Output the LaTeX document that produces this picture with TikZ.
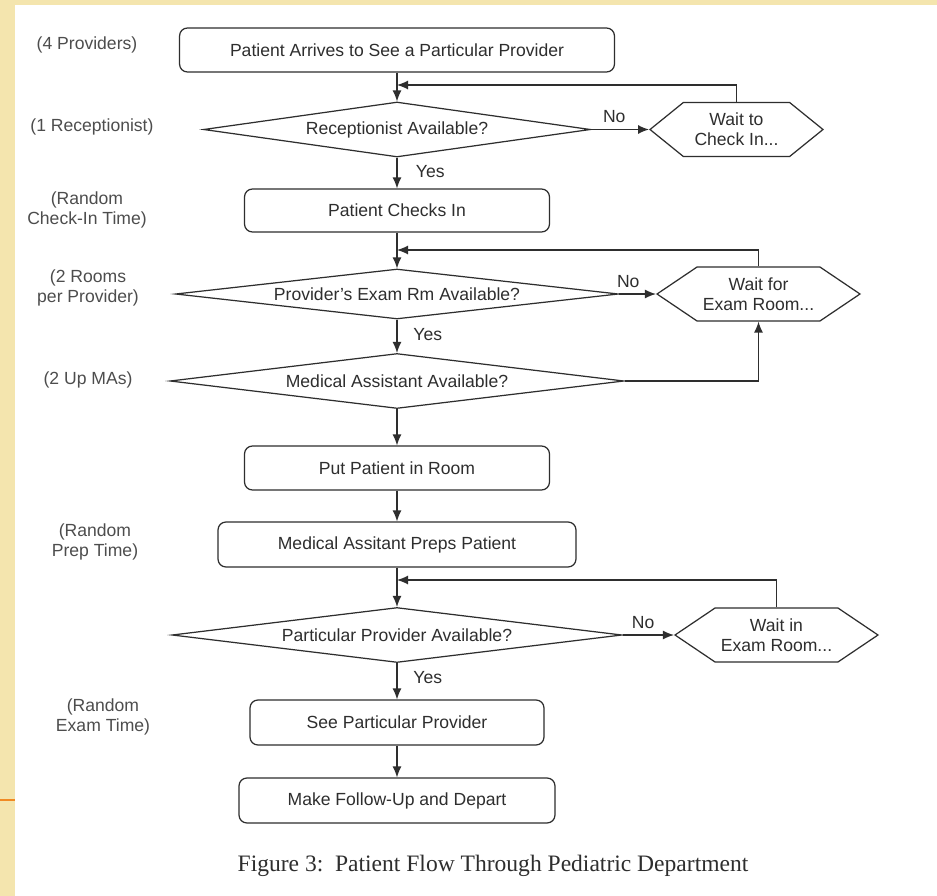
\documentclass[tikz,border=0pt]{standalone}
\usepackage{fontspec}
\setmainfont{Liberation Sans}
\newfontfamily\capfont{Liberation Serif}
\usetikzlibrary{arrows.meta,shapes.geometric,shapes.symbols}

\definecolor{slidebg}{HTML}{F4E5AE}
\definecolor{slideline}{HTML}{F08A24}
\definecolor{ink}{HTML}{2E2E2E}

\begin{document}
\begin{tikzpicture}[
  x=0.02cm, y=-0.02cm,
  font=\fontsize{10}{11.5}\selectfont,
  box/.style={draw=ink,rounded corners=4.5pt,align=center,text=ink,line width=0.7pt},
  dia/.style={draw=ink,diamond,aspect=8,inner sep=0pt,align=center,text=ink,line width=0.7pt},
  wait/.style={draw=ink,signal,signal to=east and west,inner sep=0pt,align=center,text=ink,line width=0.7pt},
  side/.style={align=center,text=ink!85},
  flow/.style={-{Latex[length=2.2mm,width=1.8mm]},draw=ink,line width=0.7pt},
  lbl/.style={text=ink}
]
\useasboundingbox (0,0) rectangle (937,896);
\fill[slidebg] (0,0) rectangle (937,896);
\fill[white] (15,5) rectangle (937,896);
\draw[slideline,line width=0.8pt] (0,800) -- (15,800);

% main column
\node[box,minimum width=8.70cm,minimum height=0.88cm] (arrive) at (397,50) {Patient Arrives to See a Particular Provider};
\node[dia,minimum width=7.74cm,minimum height=1.10cm] (recep) at (397,129.5) {Receptionist Available?};
\node[box,minimum width=6.10cm,minimum height=0.86cm] (checkin) at (397,210.5) {Patient Checks In};
\node[dia,minimum width=8.86cm,minimum height=1.00cm] (room) at (397,294) {Provider's Exam Rm Available?};
\node[dia,minimum width=9.08cm,minimum height=1.10cm] (ma) at (397,381) {Medical Assistant Available?};
\node[box,minimum width=6.10cm,minimum height=0.88cm] (putin) at (397,468) {Put Patient in Room};
\node[box,minimum width=7.16cm,minimum height=0.90cm] (prep) at (397,544.5) {Medical Assitant Preps Patient};
\node[dia,minimum width=9.00cm,minimum height=1.10cm] (prov) at (397,635) {Particular Provider Available?};
\node[box,minimum width=5.88cm,minimum height=0.90cm] (see) at (397,722.5) {See Particular Provider};
\node[box,minimum width=6.32cm,minimum height=0.90cm] (depart) at (397,800.5) {Make Follow-Up and Depart};

% waiting states
\node[wait,signal pointer angle=78,minimum width=3.46cm,minimum height=1.08cm] (waitchk) at (736.5,129.5) {Wait to\\Check In...};
\node[wait,signal pointer angle=68,minimum width=4.06cm,minimum height=1.08cm] (waitrm) at (758.5,294) {Wait for\\Exam Room...};
\node[wait,signal pointer angle=68,minimum width=4.06cm,minimum height=1.08cm] (waitex) at (776.5,635) {Wait in\\Exam Room...};

\coordinate (j1) at (397,85);
\coordinate (j2) at (397,250);
\coordinate (j3) at (397,580);

% notes on the left
\node[side] (n1) at (87,45) {(4 Providers)};
\node[side] (n2) at (92,127) {(1 Receptionist)};
\node[side] (n3) at (87,210) {(Random\\Check-In Time)};
\node[side] (n4) at (88,288) {(2 Rooms\\per Provider)};
\node[side] (n5) at (88,380) {(2 Up MAs)};
\node[side] (n6) at (95,542) {(Random\\Prep Time)};
\node[side] (n7) at (103,717) {(Random\\Exam Time)};

% connectors
\draw[flow] (arrive) -- (recep);
\draw[flow] (waitchk.north) |- (j1);
\draw[flow] (recep.east) -- node[lbl,above,pos=.4]{No} (waitchk.west);
\draw[flow] (recep) -- node[lbl,right=2.5mm,pos=.45]{Yes} (checkin);
\draw[flow] (checkin) -- (room);
\draw[flow] (waitrm.north) |- (j2);
\draw[flow] (room.east) -- node[lbl,above,pos=.25]{No} (waitrm.west);
\draw[flow] (room) -- node[lbl,right=2mm,pos=.45]{Yes} (ma);
\draw[flow] (ma.east) -| (waitrm.south);
\draw[flow] (ma) -- (putin);
\draw[flow] (putin) -- (prep);
\draw[flow] (prep) -- (prov);
\draw[flow] (waitex.north) |- (j3);
\draw[flow] (prov.east) -- node[lbl,above,pos=.4]{No} (waitex.west);
\draw[flow] (prov) -- node[lbl,right=2mm,pos=.4]{Yes} (see);
\draw[flow] (see) -- (depart);

\node[font=\capfont\fontsize{13.4}{15}\selectfont,text=ink] (cap) at (493,866) {Figure 3:\ \ Patient Flow Through Pediatric Department};
\end{tikzpicture}
\end{document}
